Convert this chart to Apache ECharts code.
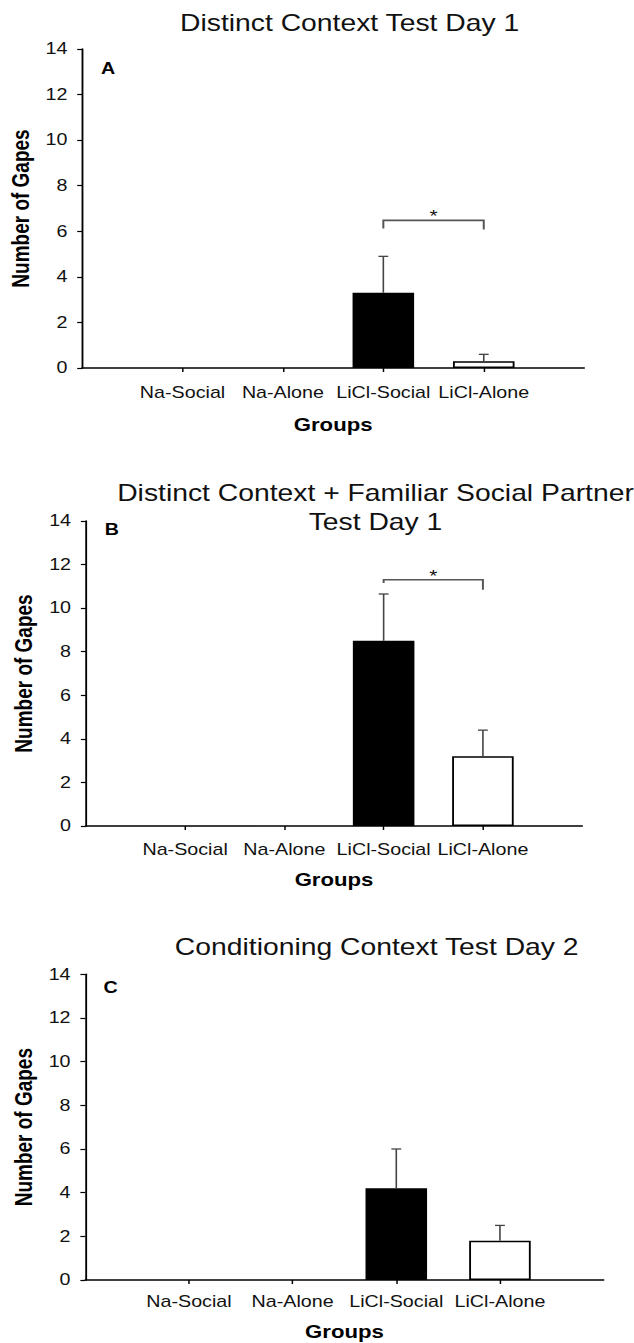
<!DOCTYPE html>
<html>
<head>
<meta charset="utf-8">
<title>Number of Gapes by Group</title>
<script src="https://cdn.jsdelivr.net/npm/echarts@6/dist/echarts.min.js"></script>
<style>
  html, body { margin: 0; padding: 0; background: #fff; overflow: hidden; }
  /* the figure is laid out at a narrower width and stretched horizontally */
  #chart { width: 515px; height: 1343px; transform: scaleX(1.2311); transform-origin: 0 0; }
</style>
</head>
<body>
<div id="chart"></div>
<script>
// ---- data ----
const categories = ['Na-Social', 'Na-Alone', 'LiCl-Social', 'LiCl-Alone'];
const yMax = 14;
const yStep = 2;

const titles = [
  'Distinct Context Test Day 1',
  'Distinct Context + Familiar Social Partner\nTest Day 1',
  'Conditioning Context Test Day 2'
];
const panelLetters = ['A', 'B', 'C'];
const xTitle = 'Groups';
const yTitle = 'Number of Gapes';

// mean number of gapes per group
const meanA = [0, 0, 3.3, 0.3];
const meanB = [0, 0, 8.5, 3.2];
const meanC = [0, 0, 4.2, 1.8];
// standard error (upper bar only)
const semA = [0, 0, 1.6, 0.3];
const semB = [0, 0, 2.15, 1.2];
const semC = [0, 0, 1.8, 0.7];
// significance brackets: [fromGroup, toGroup, barLevel, leftLegEnd, rightLegEnd]
const bracketA = [3, 4, 6.48, 6.12, 6.08];
const bracketB = [3, 4, 11.3, 11.15, 10.85];
const bracketC = null;

const means = [meanA, meanB, meanC];
const sems = [semA, semB, semC];
const brackets = [bracketA, bracketB, bracketC];

// ---- layout / style ----
const FONT = "'Liberation Sans', Arial, Helvetica, sans-serif";
const panels = [
  { left: 66.7, top: 49,    width: 407.8, height: 319,   titleX: 284, titleY: 23,    letterX: 82, letterY: 69,  yNameX: 17,   labelMargin: 17, groupsY: 425 },
  { left: 69.7, top: 521,   width: 403.2, height: 305,   titleX: 305, titleY: 507,   letterX: 85, letterY: 530, yNameX: 19.5, labelMargin: 16, groupsY: 880 },
  { left: 69.3, top: 974.3, width: 421,   height: 305.7, titleX: 306, titleY: 946.7, letterX: 84, letterY: 988, yNameX: 19.5, labelMargin: 14, groupsY: 1332 }
];
const groupFill = ['#000', '#fff', '#000', '#fff'];

const chart = echarts.init(document.getElementById('chart'), null, { renderer: 'svg' });

const grid = [], xAxis = [], yAxis = [], series = [], graphic = [];

panels.forEach((p, i) => {
  grid.push({ left: p.left, top: p.top, width: p.width, height: p.height, containLabel: false });

  xAxis.push({
    type: 'value', gridIndex: i, min: 0, max: categories.length + 1, interval: 1,
    axisLine: { show: true, onZero: false, lineStyle: { color: '#000', width: 1.5 } },
    axisTick: { show: true, length: 4, lineStyle: { color: '#000', width: 1.2 },
                customValues: categories.map((c, k) => k + 1) },
    axisLabel: { show: true, margin: p.labelMargin, color: '#111', fontFamily: FONT, fontSize: 16,
                 customValues: categories.map((c, k) => k + 1),
                 formatter: v => categories[v - 1] || '' },
    splitLine: { show: false }
  });

  yAxis.push({
    type: 'value', gridIndex: i, min: 0, max: yMax, interval: yStep,
    axisLine: { show: true, lineStyle: { color: '#000', width: 1.5 } },
    axisTick: { show: true, length: 4, lineStyle: { color: '#000', width: 1.2 } },
    axisLabel: { margin: 12, color: '#111', fontFamily: FONT, fontSize: 16 },
    splitLine: { show: false }
  });

  // group bars (outlined when open and non-zero)
  series.push({
    type: 'bar', xAxisIndex: i, yAxisIndex: i, barWidth: 50, silent: true,
    data: means[i].map((m, k) => ({
      value: [k + 1, m],
      itemStyle: { color: groupFill[k], borderColor: '#000',
                   borderWidth: (groupFill[k] === '#fff' && m > 0) ? 1.5 : 0 }
    })),
    z: 2
  });

  // upper error bars
  series.push({
    type: 'custom', xAxisIndex: i, yAxisIndex: i, silent: true, z: 3,
    data: means[i].map((m, k) => [k + 1, m, sems[i][k]]),
    renderItem: (params, api) => {
      const x = api.value(0), m = api.value(1), e = api.value(2);
      if (!(e > 0)) return null;
      const p0 = api.coord([x, m]);
      const p1 = api.coord([x, m + e]);
      const st = { stroke: '#444', lineWidth: 1.3 };
      return {
        type: 'group',
        children: [
          { type: 'line', shape: { x1: p0[0], y1: p0[1], x2: p1[0], y2: p1[1] }, style: st },
          { type: 'line', shape: { x1: p1[0] - 4, y1: p1[1], x2: p1[0] + 4, y2: p1[1] }, style: st }
        ]
      };
    }
  });

  // significance bracket with asterisk
  if (brackets[i]) {
    series.push({
      type: 'custom', xAxisIndex: i, yAxisIndex: i, silent: true, z: 4,
      data: [brackets[i]],
      renderItem: (params, api) => {
        const x1 = api.value(0), x2 = api.value(1), lvl = api.value(2);
        const a = api.coord([x1, api.value(3)]);
        const b = api.coord([x1, lvl]);
        const c = api.coord([x2, lvl]);
        const d = api.coord([x2, api.value(4)]);
        return {
          type: 'group',
          children: [
            { type: 'polyline', shape: { points: [a, b, c, d] },
              style: { stroke: '#555', lineWidth: 1.6, fill: null } },
            { type: 'text', x: (b[0] + c[0]) / 2, y: b[1] - 4,
              style: { text: '*', font: '17px ' + FONT, fill: '#111',
                       textAlign: 'center', textVerticalAlign: 'middle' } }
          ]
        };
      }
    });
  }

  // panel title
  graphic.push({
    type: 'text', x: p.titleX, y: p.titleY,
    style: { text: titles[i], font: '23px ' + FONT, fill: '#111', lineHeight: 29,
             textAlign: 'center', textVerticalAlign: 'middle' }
  });
  // panel letter
  graphic.push({
    type: 'text', x: p.letterX, y: p.letterY,
    style: { text: panelLetters[i], font: 'bold 16px ' + FONT, fill: '#000',
             textAlign: 'left', textVerticalAlign: 'middle' }
  });
  // y axis title
  graphic.push({
    type: 'text', x: p.yNameX, y: p.top + p.height / 2, rotation: Math.PI / 2,
    style: { text: yTitle, font: 'bold 19px ' + FONT, fill: '#000',
             textAlign: 'center', textVerticalAlign: 'middle' }
  });
  // x axis title
  graphic.push({
    type: 'text', x: p.left + p.width / 2, y: p.groupsY,
    style: { text: xTitle, font: 'bold 18px ' + FONT, fill: '#000',
             textAlign: 'center', textVerticalAlign: 'middle' }
  });
});

chart.setOption({
  animation: false,
  backgroundColor: '#fff',
  grid, xAxis, yAxis, series, graphic
});
</script>
</body>
</html>
